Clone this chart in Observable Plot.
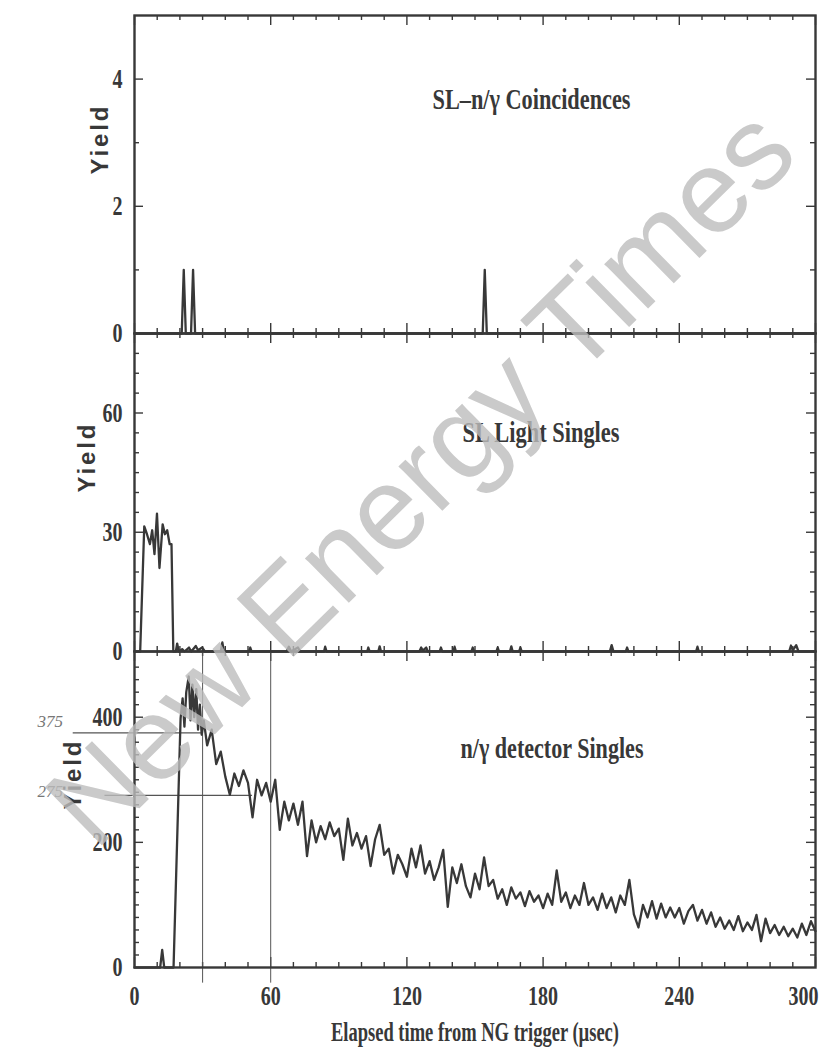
<!DOCTYPE html>
<html><head><meta charset="utf-8">
<script src="https://cdn.jsdelivr.net/npm/d3@7"></script>
<script src="https://cdn.jsdelivr.net/npm/@observablehq/plot@0.6"></script>
<style>
body{margin:0;background:#fff;width:827px;height:1054px;position:relative;overflow:hidden;}
#wrap svg{display:block;}
#wm{position:absolute;left:0;top:0;pointer-events:none;}
</style></head><body><div id="wrap"></div>
<script>
// ---------- data ----------
// Panel 1: SL–n/γ Coincidences
const t1 = [0, 20.8, 21.7, 22.6, 24.9, 25.8, 26.7, 153.4, 154.3, 155.2, 300];
const y1 = [0, 0, 1, 0, 0, 1, 0, 0, 1, 0, 0];

// Panel 2: SL Light Singles
const t2 = [0, 2.5, 4.3, 5.5, 6.8, 7.8, 8.8, 9.9, 11, 12.4, 13.4, 14.4, 15.5, 16.3, 17.1,
  18.2, 18.8, 19.5, 21, 22, 24, 25, 27, 28, 29.8, 31, 38, 38.7, 39.4, 50.4, 51, 51.6,
  67, 68, 69, 72, 73, 83.5, 84, 84.6, 102.5, 103, 103.6, 107.4, 108, 108.6,
  125.5, 126.3, 127, 128.5, 129.2, 134.4, 135, 135.6, 140.4, 141, 141.6, 148.4, 149, 149.6,
  159.4, 160, 160.6, 165.4, 166, 166.6, 169.4, 170, 170.6, 209.4, 210.2, 211, 216.4, 217, 217.6,
  247.4, 248, 248.6, 288.4, 289.2, 290, 291.5, 292.5, 300];
const y2 = [0, 0, 31.5, 29.5, 27, 30.5, 24.5, 34.7, 21, 32, 29.5, 30.5, 27, 27, 0,
  0, 2, 0, 0.6, 0, 1, 0, 1.4, 0.3, 1, 0, 0, 2.3, 0, 0, 1, 0,
  0, 1.2, 0, 1, 0, 0, 1.2, 0, 0, 1, 0, 0, 1.3, 0,
  0, 1, 0.2, 1, 0, 0, 1, 0, 0, 1.2, 0, 0, 1, 0,
  0, 1, 0, 0, 1.3, 0, 0, 1, 0, 0, 1.6, 0, 0, 1, 0,
  0, 1.2, 0, 0, 1.5, 0.3, 1.6, 0, 0];

// Panel 3: n/γ detector Singles
const t3 = [0, 11.3, 12.2, 13.1, 17.2, 20.3, 21.2, 22, 22.8, 23.9, 24.7, 25.5, 26.3, 27.2, 28, 28.8, 29.6, 30.5,
  32, 34, 36, 38, 40, 42, 44, 46, 48, 50, 52, 54, 56, 58, 60, 62, 64, 66, 68, 70,
  72, 74, 76, 78, 80, 82, 84, 86, 88, 90, 92, 94, 96, 98, 100, 102, 104, 106, 108, 110,
  112, 114, 116, 118, 120, 122, 124, 126, 128, 130, 132, 134, 136, 138, 140, 142, 144, 146, 148, 150,
  152, 154, 156, 158, 160, 162, 164, 166, 168, 170, 172, 174, 176, 178, 180, 182, 184, 186, 188, 190,
  192, 194, 196, 198, 200, 202, 204, 206, 208, 210, 212, 214, 216, 218, 220, 222, 224, 226, 228, 230,
  232, 234, 236, 238, 240, 242, 244, 246, 248, 250, 252, 254, 256, 258, 260, 262, 264, 266, 268, 270,
  272, 274, 276, 278, 280, 282, 284, 286, 288, 290, 292, 294, 296, 298, 300];
const y3 = [0, 0, 28, 0, 0, 398, 430, 385, 440, 465, 395, 452, 400, 445, 380, 420, 372, 395,
  355, 380, 325, 345, 305, 276, 310, 290, 315, 295, 240, 300, 275, 295, 265, 300, 220, 265, 235, 262,
  228, 265, 178, 235, 200, 226, 205, 232, 210, 222, 172, 238, 195, 215, 190, 210, 162, 205, 228, 180,
  190, 150, 180, 165, 145, 190, 160, 195, 150, 170, 140, 160, 188, 97, 160, 135, 165, 130, 112, 150,
  125, 176, 130, 140, 110, 125, 100, 128, 110, 120, 98, 122, 105, 115, 95, 118, 100, 155, 105, 120,
  95, 115, 100, 135, 100, 112, 92, 118, 95, 112, 88, 115, 100, 140, 85, 64, 100, 80, 106, 78,
  102, 80, 96, 80, 95, 70, 90, 100, 75, 92, 70, 88, 65, 80, 62, 75, 60, 82, 58, 72,
  60, 84, 42, 78, 55, 68, 52, 65, 50, 62, 48, 70, 52, 74, 58];

// ticks / labels
const xMajor = [0, 60, 120, 180, 240, 300];
const xLabelTicks = [0, 60, 120, 180, 240];
const xLastTick = [300];
const xMinor = [10, 20, 30, 40, 50, 70, 80, 90, 100, 110, 130, 140, 150, 160, 170, 190, 200, 210, 220, 230, 250, 260, 270, 280, 290];
const y1Labels = [0, 2, 4], y1Major = [2, 4], y1Minor = [1, 3];
const y2Labels = [0, 30, 60], y2Major = [30, 60], y2Minor = [5, 10, 15, 20, 25, 35, 40, 45, 50, 55, 65, 70, 75];
const y3Labels = [0, 200, 400], y3Major = [200, 400],
  y3Minor = [20, 40, 60, 80, 100, 120, 140, 160, 180, 220, 240, 260, 280, 300, 320, 340, 360, 380, 420, 440, 460, 480];

const titles = ["SL–n/γ Coincidences", "SL Light Singles", "n/γ detector Singles"];
const xLabel = "Elapsed time from NG trigger (µsec)";
const yLabel = "Yield";
// hand-drawn marker annotations (data units of panel 3)
const markerX = [30, 60];
const markerLevels = [375, 275];
const markerFrom = [-27, -13];
const markerTo = [30, 52];
const markerText = ["375", "275"];

// ---------- drawing ----------
const W = 827, ML = 134, MR = 12, PW = W - ML - MR;
const INK = "#383838";
const targetWidth = new Map([[titles[0], 198], [titles[1], 157], [titles[2], 183], [xLabel, 288]]);

function panel(o) {
  const {t, y, yDomain, yLabels, yMajor, yMinor, title, tdx, tdy, yieldDx, mt, ph, mb, extra = []} = o;
  const tick = {stroke: INK, strokeWidth: 1.4};
  return Plot.plot({
    width: W, height: mt + ph + mb,
    marginTop: mt, marginBottom: mb, marginLeft: ML, marginRight: MR,
    style: {background: "transparent", overflow: "visible", fontFamily: "Liberation Serif", color: INK},
    x: {domain: [0, 300], axis: null},
    y: {domain: yDomain, axis: null},
    marks: [
      Plot.tickY(yMinor, {y: d => d, insetRight: PW - 5, ...tick}),
      Plot.tickY(yMinor, {y: d => d, insetLeft: PW - 5, ...tick}),
      Plot.tickY(yMajor, {y: d => d, insetRight: PW - 9, ...tick}),
      Plot.tickY(yMajor, {y: d => d, insetLeft: PW - 9, ...tick}),
      Plot.tickX(xMinor, {x: d => d, insetBottom: ph - 5, ...tick}),
      Plot.tickX(xMinor, {x: d => d, insetTop: ph - 5, ...tick}),
      Plot.tickX(xMajor, {x: d => d, insetBottom: ph - 10, ...tick}),
      Plot.tickX(xMajor, {x: d => d, insetTop: ph - 10, ...tick}),
      Plot.axisY({ticks: yLabels, tickSize: 0, tickPadding: 12, fontSize: 27, fontWeight: "bold", tickFormat: d => String(d)}),
      ...extra,
      Plot.line(t, {x: t, y: y, stroke: INK, strokeWidth: 2.3, strokeLinejoin: "round"}),
      Plot.frame({stroke: INK, strokeWidth: 2.4}),
      Plot.text([title], {frameAnchor: "top-left", dx: tdx, dy: tdy, textAnchor: "start", lineAnchor: "bottom", fontSize: 30, fontWeight: "bold", fill: INK}),
      Plot.text([yLabel], {frameAnchor: "left", dx: -yieldDx, rotate: -90, fontFamily: "Liberation Sans", fontWeight: "bold", fontSize: 24, fill: INK})
    ]
  });
}

const wrap = document.getElementById("wrap");
wrap.append(panel({t: t1, y: y1, yDomain: [0, 5], yLabels: y1Labels, yMajor: y1Major, yMinor: y1Minor,
  title: titles[0], tdx: 298, tdy: 93, yieldDx: 34, mt: 15, ph: 318, mb: 0}));
wrap.append(panel({t: t2, y: y2, yDomain: [0, 80], yLabels: y2Labels, yMajor: y2Major, yMinor: y2Minor,
  title: titles[1], tdx: 328, tdy: 108, yieldDx: 47, mt: 0, ph: 318, mb: 0}));
const idx = markerLevels.map((d, i) => i);
wrap.append(panel({t: t3, y: y3, yDomain: [0, 505], yLabels: y3Labels, yMajor: y3Major, yMinor: y3Minor,
  title: titles[2], tdx: 326, tdy: 106, yieldDx: 61, mt: 0, ph: 316, mb: 87,
  extra: [
    Plot.axisX({ticks: xLabelTicks, tickSize: 0, tickPadding: 18, fontSize: 27, fontWeight: "bold", tickFormat: d => String(d)}),
    Plot.axisX({ticks: xLastTick, tickSize: 0, tickPadding: 18, dx: -12, fontSize: 27, fontWeight: "bold", tickFormat: d => String(d)}),
    Plot.text([xLabel], {frameAnchor: "bottom", dy: 73, fontSize: 28, fontWeight: "bold", fill: INK}),
    Plot.ruleX(markerX, {x: d => d, y1: 505, y2: -25, stroke: "#555", strokeWidth: 1}),
    Plot.ruleY(idx, {y: i => markerLevels[i], x1: i => markerFrom[i], x2: i => markerTo[i], stroke: "#555", strokeWidth: 1.2}),
    Plot.text(idx, {text: i => markerText[i], y: i => markerLevels[i] + (i === 0 ? 18 : 6), frameAnchor: "left", dx: -97, fontSize: 17, fontStyle: "italic", fill: "#777"})
  ]}));

// condensed serif typography
wrap.querySelectorAll("svg text").forEach(el => {
  const s = el.textContent;
  if (s === yLabel) {
    el.setAttribute("textLength", "68");
    el.setAttribute("lengthAdjust", "spacing");
    return;
  }
  if (markerText.includes(s)) return;
  const L = el.getComputedTextLength();
  const target = targetWidth.has(s) ? targetWidth.get(s) : L * 0.74;
  el.setAttribute("textLength", target.toFixed(1));
  el.setAttribute("lengthAdjust", "spacingAndGlyphs");
});

// watermark overlay
const wm = d3.select("body").append("svg").attr("id", "wm").attr("width", W).attr("height", 1054);
wm.append("text").attr("transform", "translate(95,852) rotate(-44.5)")
  .attr("font-family", "Liberation Sans").attr("font-size", 118)
  .attr("fill", "#bdbdbd").attr("opacity", 0.8).text("New Energy Times");
</script></body></html>
